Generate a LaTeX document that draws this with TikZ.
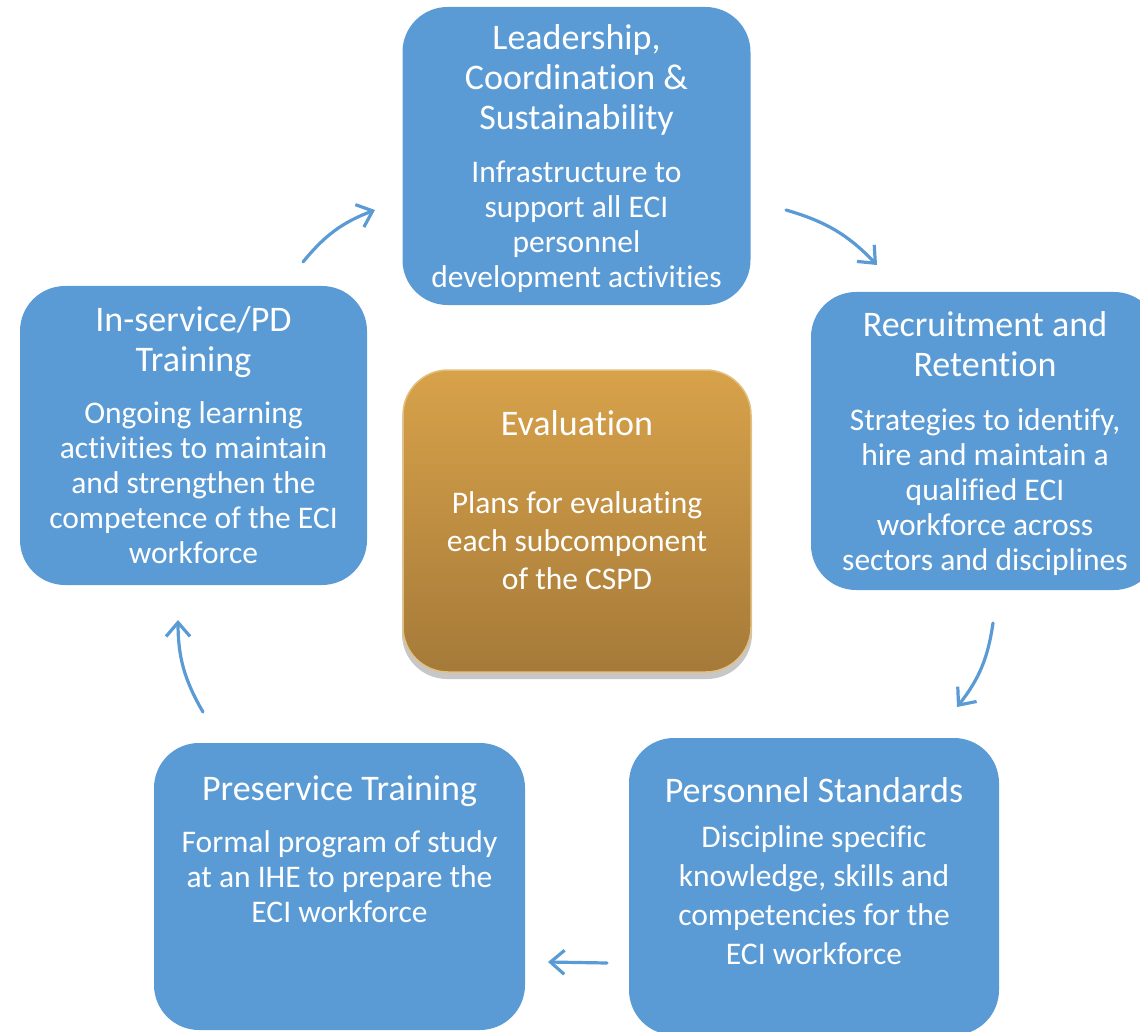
\documentclass[tikz,border=0pt]{standalone}
\usepackage{fontspec}
\setmainfont{Carlito}[Ligatures=CommonOff]
\usetikzlibrary{positioning,arrows.meta}
\definecolor{cspdblue}{RGB}{91,155,213}
\definecolor{evaltop}{RGB}{216,162,74}
\definecolor{evalbot}{RGB}{165,122,57}
\definecolor{evaledge}{RGB}{226,192,128}
\tikzset{
	stage/.style={fill=cspdblue, rounded corners=45pt, inner sep=0pt, minimum width=348pt, minimum height=298pt},
	headtxt/.style={text=white, align=center, inner sep=0pt, font=\fontsize{36}{40}\selectfont},
	bodytxt/.style={text=white, align=center, inner sep=0pt, font=\fontsize{31.5}{35}\selectfont},
	flow/.style={cspdblue, line width=3.2pt, line cap=round, -{Straight Barb[length=14pt,width=24pt]}}
}
\begin{document}
\begin{tikzpicture}[x=1pt,y=1pt]
	\useasboundingbox (0,0) rectangle (1140,-1032);
	\clip (0,0) rectangle (1140,-1032);
	% the five stages
	\node[stage] (lead) at (576.5,-156) {};
	\node[stage] (recr) at (985,-441) {};
	\node[stage, minimum width=370pt, minimum height=297pt] (pers) at (814,-886.5) {};
	\node[stage, minimum width=371pt, minimum height=287pt] (pres) at (339.5,-886.5) {};
	\node[stage, minimum width=347pt, minimum height=299pt] (insv) at (193.5,-435.5) {};
	% evaluation in the middle
	\node[fill=black!22, rounded corners=45pt, minimum width=350pt, minimum height=302pt] (evalshade) at (577,-528) {};
	\node[top color=evaltop, bottom color=evalbot, draw=evaledge, line width=1.5pt, rounded corners=45pt, minimum width=348pt, minimum height=302pt] (eval) at (577,-521) {};
	% texts
	\node[headtxt, below=18pt of lead.north] (lead-h) {Leadership,\\Coordination \&\\Sustainability};
	\node[bodytxt, below=154pt of lead.north] (lead-b) {Infrastructure to\\support all ECI\\personnel\\development activities};
	\node[headtxt, below=20pt of recr.north] (recr-h) {Recruitment and\\Retention};
	\node[bodytxt, below=117pt of recr.north] (recr-b) {Strategies to identify,\\hire and maintain a\\qualified ECI\\workforce across\\sectors and disciplines};
	\node[headtxt, below=39pt of pers.north] (pers-h) {Personnel Standards};
	\node[bodytxt, font=\fontsize{31.5}{39}\selectfont, below=88pt of pers.north] (pers-b) {Discipline specific\\knowledge, skills and\\competencies for the\\ECI workforce};
	\node[headtxt, below=33pt of pres.north] (pres-h) {Preservice Training};
	\node[bodytxt, below=88pt of pres.north] (pres-b) {Formal program of study\\at an IHE to prepare the\\ECI workforce};
	\node[headtxt, below=21pt of insv.north] (insv-h) {In-service/PD\\Training};
	\node[bodytxt, below=116pt of insv.north] (insv-b) {Ongoing learning\\activities to maintain\\and strengthen the\\competence of the ECI\\workforce};
	\node[headtxt, below=41pt of eval.north] (eval-h) {Evaluation};
	\node[bodytxt, font=\fontsize{31.5}{38}\selectfont, below=122pt of eval.north] (eval-b) {Plans for evaluating\\each subcomponent\\of the CSPD};
	% arrow ends
	\coordinate (a1s) at (303,-262); \coordinate (a1e) at (375,-210);
	\coordinate (a2s) at (786,-210); \coordinate (a2e) at (877,-265);
	\coordinate (a3s) at (993,-623); \coordinate (a3e) at (957,-707);
	\coordinate (a4s) at (607,-963); \coordinate (a4e) at (548,-962);
	\coordinate (a5s) at (203,-712); \coordinate (a5e) at (178,-620);
	\draw[flow] (a1s) to[bend left=15] (a1e);
	\draw[flow] (a2s) to[bend left=15] (a2e);
	\draw[flow] (a3s) to[bend left=15] (a3e);
	\draw[flow] (a4s) -- (a4e);
	\draw[flow] (a5s) to[bend left=15] (a5e);
\end{tikzpicture}
\end{document}
